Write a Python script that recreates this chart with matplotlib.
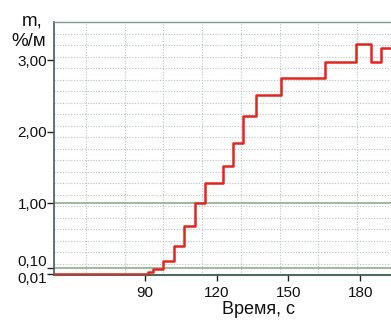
import matplotlib
matplotlib.use('Agg')
import matplotlib.pyplot as plt
import numpy as np
from matplotlib.transforms import offset_copy

plt.rcParams['font.family'] = ['Liberation Sans', 'DejaVu Sans']

# Step data (time of change, value after change)
time_s = [50.0, 91.4, 93.5, 97.6, 102.1, 106.4, 110.8, 115.0, 122.6, 126.8,
          131.0, 136.6, 147.0, 165.3, 178.2, 184.5, 188.6, 200.0]
m_values = [0.01, 0.046, 0.084, 0.20, 0.41, 0.68, 1.01, 1.28, 1.52, 1.84,
            2.22, 2.51, 2.75, 2.97, 3.22, 2.97, 3.17, 3.17]

y_ticks = [0.01, 0.10, 1.00, 2.00, 3.00]
y_tick_labels = ['0,01', '0,10', '1,00', '2,00', '3,00']
x_ticks = [90, 120, 150, 180]
x_tick_labels = ['90', '120', '150', '180']
ref_levels = [0.10, 1.00]

W, H = 391, 320
fig = plt.figure(figsize=(W / 100, H / 100), dpi=100)
left_px, right_px, top_px, bot_px = 53.7, 392.0, 22.3, 275.0
ax = fig.add_axes([left_px / W, 1 - bot_px / H, (right_px - left_px) / W, (bot_px - top_px) / H])
ax.set_xlim(51.8, 193.3)
ax.set_ylim(0, 3.53)

# dotted grid (equal divisions)
ax.set_yticks(np.linspace(0, 3.53, 23)[1:-1], minor=True)
ax.set_xticks(np.arange(65.3, 193.3, 16.2), minor=True)
ax.grid(which='minor', color='#b8c0c0', lw=0.8, ls=(0, (1, 1.5)))
ax.tick_params(which='minor', length=0)

for lv in ref_levels:
    ax.axhline(lv, color='#8fae8f', lw=1.2, zorder=2)

ax.step(time_s, m_values, where='post', color='#e0261e', lw=1.8, zorder=3)

# spines
ax.spines['right'].set_visible(False)
ax.spines['left'].set_color('#3f5f5f')
ax.spines['left'].set_linewidth(1.2)
ax.spines['top'].set_color('#7f9a90')
ax.spines['top'].set_linewidth(1.0)
ax.spines['top'].set_linestyle((0, (1, 1)))
ax.spines['bottom'].set_color('#4d6b60')
ax.spines['bottom'].set_linewidth(1.5)

# y ticks with manual labels
ax.set_yticks(y_ticks)
ax.set_yticklabels([''] * len(y_ticks))
ax.tick_params(axis='y', which='major', length=5, width=1, color='#222222')
dys = {'0,01': -8.7, '0,10': 1.8}
for v, lab in zip(y_ticks, y_tick_labels):
    tr = offset_copy(ax.get_yaxis_transform(), fig=fig, x=-6.5, y=dys.get(lab, -5.5), units='dots')
    ax.text(0, v, lab, transform=tr, ha='right', va='baseline', fontsize=11, color='#111111')

ax.set_xticks(x_ticks)
ax.set_xticklabels(x_tick_labels)
ax.tick_params(axis='x', which='major', length=4, width=1, color='#222222', pad=4,
               labelsize=11, labelcolor='#111111')

fig.text(258 / W, 1 - 310 / H, 'Время, с', ha='center', va='center', fontsize=13, color='#111111')
fig.text(32.5 / W, 1 - 25 / H, 'm,', ha='center', va='baseline', fontsize=13.5, color='#111111')
fig.text(29 / W, 1 - 45.7 / H, '%/м', ha='center', va='baseline', fontsize=13.5, color='#111111')

fig.savefig('out.png', dpi=100)
